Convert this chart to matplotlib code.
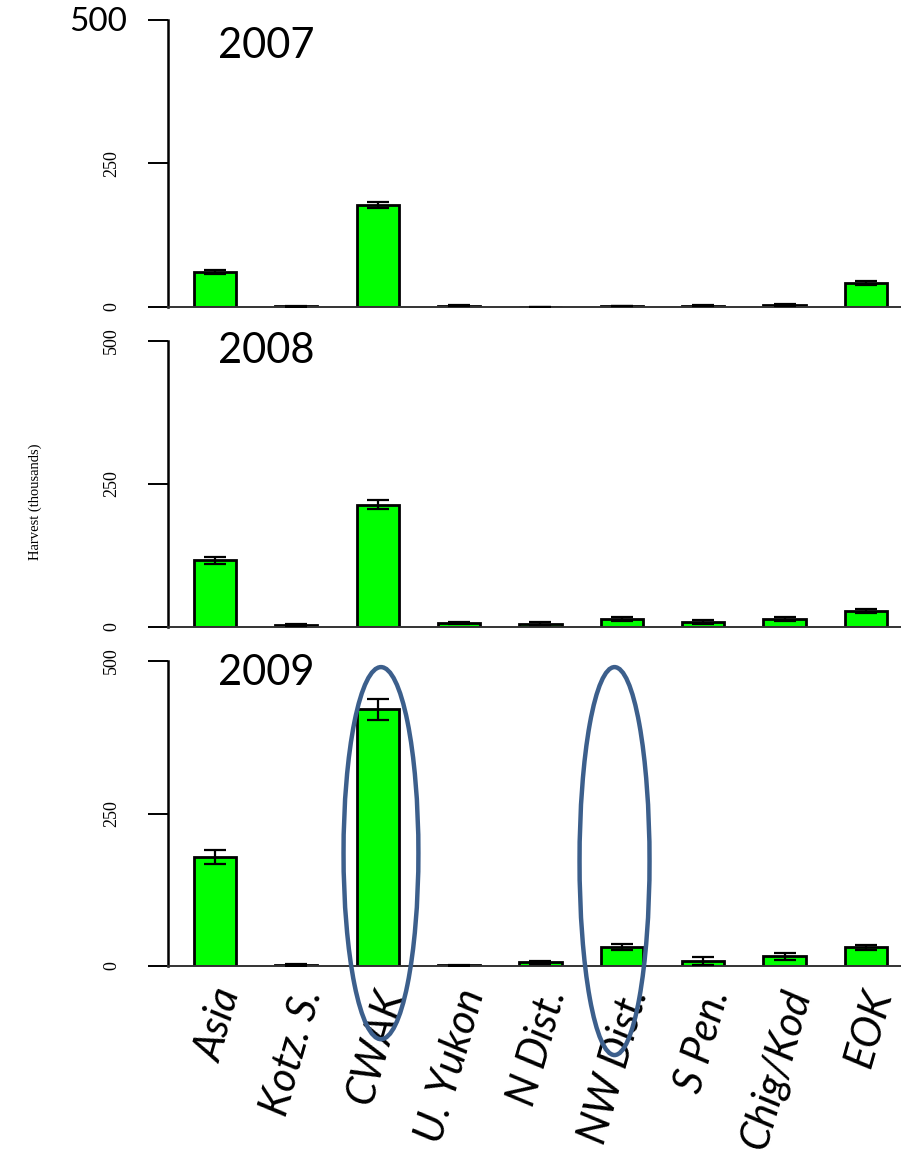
import matplotlib.pyplot as plt
from matplotlib.patches import Ellipse

regions = ["Asia", "Kotz. S.", "CWAK", "U. Yukon", "N Dist.", "NW Dist.", "S Pen.", "Chig/Kod", "EOK"]
years = ["2007", "2008", "2009"]

# harvest (thousands) and error per region
harvest_2007 = [61, 1, 178, 2, 0.5, 1.5, 2, 4, 42]
err_2007 = [3.5, 0.5, 5, 0.8, 0.3, 0.6, 1, 1.5, 3]
harvest_2008 = [117, 4, 214, 7, 6, 14, 9, 14, 28]
err_2008 = [6, 2, 8, 2, 3, 3, 3, 3, 3]
harvest_2009 = [179, 2, 421, 1, 6, 31, 8, 16, 31]
err_2009 = [11.5, 2, 17, 1, 3, 5, 6, 6, 4]

yticks = [0, 250, 500]
circled = ["CWAK", "NW Dist."]

W, H = 901, 1161
fig = plt.figure(figsize=(W / 100, H / 100), dpi=100)

# panel extents in pixels: (top of 500, bottom at 0)
panels = [(20, 307), (341, 627), (661, 966)]
left_px, right_px = 168, 901
x = list(range(len(regions)))

def px_box(top, bottom):
    return [left_px / W, 1 - bottom / H, (right_px - left_px) / W, (bottom - top) / H]

axes = []
data = [(harvest_2007, err_2007), (harvest_2008, err_2008), (harvest_2009, err_2009)]
for (top, bottom), (vals, errs) in zip(panels, data):
    ax = fig.add_axes(px_box(top, bottom))
    ax.bar(x, vals, width=0.52, color="#00ff00", edgecolor="black", linewidth=2.0, zorder=2)
    ax.errorbar(x, vals, yerr=errs, fmt="none", ecolor="black", elinewidth=1.6,
                capsize=8, capthick=1.6, zorder=3)
    ax.set_xlim(-0.577, 8.43)
    ax.set_ylim(0, 500)
    for s in ["top", "right"]:
        ax.spines[s].set_visible(False)
    ax.spines["left"].set_linewidth(1.8)
    ax.spines["bottom"].set_linewidth(1.4)
    ax.spines["bottom"].set_color("#333333")
    ax.set_xticks([])
    ax.set_yticks(yticks)
    ax.set_yticklabels([str(t) for t in yticks], rotation=90, va="center",
                       family="Liberation Serif", fontsize=13)
    ax.tick_params(axis="y", length=14.4, width=1.4, pad=20)
    axes.append(ax)

# year labels
for yr, base in zip(years, [58, 363, 685]):
    fig.text(218 / W, 1 - base / H, yr, fontsize=30, family="Lato", va="baseline", ha="left")

# the big 500 on the top panel
axes[0].set_yticklabels(["0", "250", ""], rotation=90, va="center",
                        family="Liberation Serif", fontsize=13)
axes[0].annotate("500", xy=(0, 500), xycoords=("axes fraction", "data"),
                 xytext=(-41, -2), textcoords="offset pixels", ha="right", va="center",
                 fontsize=24, family="Lato", annotation_clip=False)

fig.text(35 / W, 1 - 502 / H, "Harvest (thousands)", rotation=90, ha="center", va="center",
         family="Liberation Serif", fontsize=10.5)

# rotated italic region labels under the last panel
ax3 = axes[2]
for i, name in enumerate(regions):
    ax3.annotate(name, xy=(i, 0), xycoords=("data", "axes fraction"),
                 xytext=(14, -24), textcoords="offset pixels",
                 rotation=74, rotation_mode="anchor", ha="right", va="center",
                 fontsize=30, family="Lato", style="italic", annotation_clip=False)

# ellipses highlighting regions: (x shift, centre y, height, width)
ell = {"CWAK": (0.04, 185, 610, 0.92), "NW Dist.": (-0.09, 172, 636, 0.86)}
for name in circled:
    dx, cy, hgt, wid = ell[name]
    e = Ellipse((regions.index(name) + dx, cy), wid, hgt, fill=False, edgecolor="#3c5f8c",
                linewidth=3.2, clip_on=False, zorder=5)
    ax3.add_patch(e)

fig.savefig("out.png", dpi=100)
